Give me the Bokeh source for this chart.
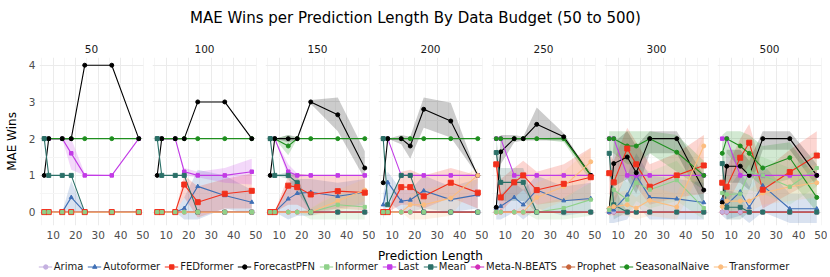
from bokeh.plotting import figure
from bokeh.layouts import column, row
from bokeh.models import Range1d, FixedTicker, Legend, LegendItem, Label, AllLabels
from bokeh.embed import file_html
from bokeh.resources import INLINE

FONT = "DejaVu Sans"

PRED_LEN = [6, 8, 14, 18, 24, 36, 48]
BUDGETS = [50, 100, 150, 200, 250, 300, 500]
X_TICKS = [10, 20, 30, 40, 50]
X_MINOR = [5, 15, 25, 35, 45]
Y_TICKS = [0, 1, 2, 3, 4]
Y_MINOR = [0.5, 1.5, 2.5, 3.5]

MODELS = ["Arima", "Autoformer", "FEDformer", "ForecastPFN", "Informer", "Last",
          "Mean", "Meta-N-BEATS", "Prophet", "SeasonalNaive", "Transformer"]
# stacking order of the point layer (bottom to top)
POINT_ORDER = ["Meta-N-BEATS", "Prophet", "Arima", "Autoformer", "Last", "SeasonalNaive",
               "ForecastPFN", "Mean", "Transformer", "FEDformer", "Informer"]

COLORS = {
    "Arima": "#c4b0e0", "Autoformer": "#3f6fb5", "FEDformer": "#f2301c",
    "ForecastPFN": "#000000", "Informer": "#8fd18a", "Last": "#c23be6",
    "Mean": "#2b7068", "Meta-N-BEATS": "#d22dba", "Prophet": "#c8643a",
    "SeasonalNaive": "#1f8f1f", "Transformer": "#fcbd7e",
}
MARKERS = {
    "Arima": "circle", "Autoformer": "triangle", "FEDformer": "square",
    "ForecastPFN": "circle", "Informer": "square", "Last": "square",
    "Mean": "square", "Meta-N-BEATS": "circle", "Prophet": "circle",
    "SeasonalNaive": "circle", "Transformer": "circle",
}
SIZES = {m: 4 for m in MODELS}
SIZES["FEDformer"] = 5
SIZES["Informer"] = 3.2
SIZES["Last"] = 3.5

# MAE wins, one row per data budget (50, 100, 150, 200, 250, 300, 500)
ARIMA = [
    [0, 0, 0, 0, 0, 0, 0], [0, 0, 0, 0, 0, 0, 0], [0, 0, 0, 0, 0, 0, 0],
    [0, 0, 0, 0, 0, 0, 0], [0, 0, 0, 0, 0, 0, 0], [0, 0, 0, 0, 0, 0, 0],
    [0, 0, 0, 0, 0, 0, 0],
]
AUTOFORMER = [
    [0, 0, 0, 0.4, 0, 0, 0],
    [0, 0, 0, 0.1, 0.7, 0.45, 0.27],
    [0, 0, 0.36, 0.51, 0.54, 0.43, 0.54],
    [0.2, 0.81, 0.3, 0.33, 0.58, 0.34, 0.47],
    [0.11, 0.16, 0.4, 0.2, 0.6, 0.31, 0.37],
    [0, 0.06, 0.47, 1.0, 0.4, 0.36, 0.26],
    [0.34, 0.2, 0.55, 0.13, 0.72, 0.09, 0.09],
]
FEDFORMER = [
    [0, 0, 0, 0, 0, 0, 0],
    [0, 0, 0, 0.75, 0.27, 0.5, 0.58],
    [0, 0, 0.72, 0.68, 0.48, 0.57, 0.53],
    [0, 0, 0.68, 0.68, 0.43, 0.8, 0.53],
    [1.3, 0.4, 0.81, 1.0, 0.6, 0.77, 0.95],
    [1.06, 0.81, 1.73, 1.3, 0.69, 1.0, 1.27],
    [0.8, 0.69, 1.48, 1.89, 0.61, 1.09, 1.54],
]
FORECASTPFN = [
    [1, 2, 2, 2, 4, 4, 2],
    [1, 2, 2, 2, 3, 3, 2],
    [1, 2, 2, 2, 3, 2.65, 1.2],
    [0.8, 2, 2, 1.8, 2.8, 2.48, 1],
    [0.13, 1.64, 2, 2, 2.39, 2.05, 1],
    [0.09, 1.32, 1.5, 1.07, 2, 2, 0.6],
    [0.26, 1.25, 1.25, 1.0, 2, 2, 1],
]
INFORMER = [
    [0, 0, 0, 0, 0, 0, 0],
    [0, 0, 0, 0, 0, 0, 0],
    [0, 0, 0, 0, 0, 0.2, 0.14],
    [0, 0, 0, 0, 0, 0, 0],
    [0, 0, 0, 0, 0, 0.11, 0.34],
    [0.06, 0.61, 0.34, 0.8, 0.61, 0.87, 0.11],
    [0.52, 0.48, 0.5, 1.1, 1.0, 0.69, 1.2],
]
LAST = [
    [2, 2, 2, 1.6, 1, 1, 2],
    [2, 2, 2, 1.1, 1, 1, 1.1],
    [2, 2, 1.1, 1, 1, 1, 1],
    [2, 2, 1, 1, 1, 1, 1],
    [2, 2, 1, 1, 1, 1, 1],
    [2, 2, 1, 1, 1, 1, 1],
    [2, 2, 1, 1, 1, 1, 1],
]
MEAN = [
    [2, 1, 1, 1, 0, 0, 0],
    [2, 1, 1, 1, 0, 0, 0],
    [2, 1, 1, 0.8, 0, 0, 0],
    [2, 0.2, 1, 1, 0, 0, 0],
    [1.62, 0.81, 0.81, 0.81, 0, 0, 0],
    [1.6, 0.2, 0, 0, 0, 0, 0],
    [1.32, 0.13, 0.13, 0, 0, 0, 0],
]
META_N_BEATS = [
    [0, 0, 0, 0, 0, 0, 0], [0, 0, 0, 0, 0, 0, 0], [0, 0, 0, 0, 0, 0, 0],
    [0, 0, 0, 0, 0, 0, 0], [0, 0, 0, 0, 0, 0, 0], [0, 0, 0, 0, 0, 0, 0],
    [0, 0, 0, 0, 0, 0, 0],
]
PROPHET = [
    [0, 0, 0, 0, 0, 0, 0], [0, 0, 0, 0, 0, 0, 0], [0, 0, 0, 0, 0, 0, 0],
    [0, 0, 0, 0, 0, 0, 0], [0, 0, 0, 0, 0, 0, 0], [0, 0, 0, 0, 0, 0, 0],
    [0, 0, 0, 0, 0, 0, 0],
]
SEASONALNAIVE = [
    [2, 2, 2, 2, 2, 2, 2],
    [2, 2, 2, 2, 2, 2, 2],
    [2, 2, 1.8, 2, 2, 2, 2],
    [2, 2, 2, 2, 2, 2, 2],
    [2, 2, 2, 2, 2, 2, 1],
    [2, 2, 1.8, 1.8, 2, 1.63, 1.0],
    [1.6, 2, 1.8, 1.6, 1.2, 1.48, 0.4],
]
TRANSFORMER = [
    [0, 0, 0, 0, 0, 0, 0],
    [0, 0, 0, 0, 0, 0, 0],
    [0, 0, 0, 0, 0, 0.3, 0.6],
    [0, 0, 0, 0.2, 0.2, 0.38, 1.0],
    [0, 0, 0, 0, 0.4, 0.7, 1.37],
    [0.1, 0.15, 0.2, 0.11, 0.32, 0.14, 1.8],
    [0.15, 0.3, 0.3, 0.3, 0.52, 0.69, 0.8],
]

# ribbons (lower, upper) for the budgets where one is visible
FORECASTPFN_BAND = {
    150: ([1, 2, 1.9, 1.95, 2.95, 2.2, 0.9], [1, 2, 2.1, 2.05, 3.05, 3.12, 1.66]),
    200: ([0.8, 2, 1.85, 1.45, 2.3, 2.03, 1.0], [0.8, 2, 2.1, 2.05, 3.12, 2.98, 1.0]),
    250: ([0.13, 1.3, 1.9, 1.95, 1.95, 1.95, 1.0], [0.13, 2.1, 2.1, 2.05, 2.85, 2.15, 1.0]),
    300: ([0.0, 0.7, 0.9, 0.5, 1.6, 1.6, 0.2], [0.3, 1.9, 2.2, 1.8, 2.2, 2.2, 1.0]),
    500: ([0.1, 0.8, 0.8, 0.6, 1.7, 1.7, 0.7], [0.5, 1.7, 1.7, 1.4, 2.2, 2.2, 1.3]),
}
SEASONALNAIVE_BAND = {
    150: ([2, 2, 1.55, 2, 2, 2, 2], [2, 2, 2.1, 2, 2, 2, 2]),
    250: ([2, 2, 2, 2, 2, 1.9, 0.85], [2, 2, 2, 2, 2, 2.05, 1.1]),
    300: ([1.6, 1.6, 1.3, 1.3, 1.6, 1.1, 0.6], [2.2, 2.2, 2.2, 2.2, 2.2, 2.1, 1.4]),
    500: ([1.0, 1.6, 1.2, 1.0, 0.7, 0.9, 0.0], [2.1, 2.2, 2.2, 2.1, 1.8, 1.9, 0.9]),
}
MEAN_BAND = {
    150: ([2, 1, 0.9, 0.55, 0, 0, 0], [2, 1, 1.1, 1.0, 0, 0, 0]),
    250: ([1.2, 0.3, 0.3, 0.3, 0, 0, 0], [2.0, 1.2, 1.2, 1.2, 0, 0, 0]),
    300: ([1.0, -0.2, 0, 0, 0, 0, 0], [2.1, 0.7, 0, 0, 0, 0, 0]),
    500: ([0.8, -0.2, -0.2, 0, 0, 0, 0], [1.9, 0.6, 0.5, 0, 0, 0, 0]),
}
LAST_BAND = {
    50: ([2, 2, 2, 1.15, 1, 1, 2], [2, 2, 2, 2.0, 1.05, 1, 2]),
    100: ([2, 2, 2, 1.0, 0.95, 0.8, 0.75], [2, 2, 2, 1.2, 1.1, 1.2, 1.45]),
    150: ([2, 2, 0.95, 0.95, 1, 1, 1], [2, 2, 1.3, 1.05, 1, 1, 1]),
}
AUTOFORMER_BAND = {
    50: ([0, 0, 0, 0, 0, 0, 0], [0, 0, 0, 0.85, 0, 0, 0]),
    100: ([0, 0, 0, -0.2, -0.2, 0.1, -0.05], [0, 0, 0, 0.4, 1.15, 1.0, 0.6]),
    150: ([0, 0, -0.2, -0.1, -0.1, 0.1, 0.2], [0, 0, 0.8, 0.9, 0.9, 0.8, 0.9]),
    200: ([-0.2, 0.3, 0, 0, 0.1, 0, 0.1], [0.5, 1.1, 0.6, 0.6, 1.0, 0.7, 0.9]),
    250: ([-0.2, -0.2, 0, -0.2, 0.1, -0.1, 0.0], [0.4, 0.5, 0.8, 0.6, 1.0, 0.7, 0.8]),
    300: ([-0.3, -0.3, -0.2, 0.2, -0.2, -0.2, -0.2], [0.3, 0.4, 1.0, 1.6, 1.0, 0.9, 0.8]),
    500: ([-0.1, -0.2, -0.1, -0.3, 0.0, -0.3, -0.3], [0.9, 0.6, 1.1, 0.7, 1.3, 0.5, 0.5]),
}
FEDFORMER_BAND = {
    100: ([0, 0, 0, 0.4, -0.15, 0.1, 0.1], [0, 0, 0, 1.0, 0.7, 0.9, 1.05]),
    150: ([0, 0, 0.2, 0.2, 0, 0.1, 0.05], [0, 0, 1.0, 1.05, 1.0, 1.0, 1.0]),
    200: ([0, 0, 0.2, 0.2, 0.1, 0.4, 0.1], [0, 0, 1.1, 1.15, 1.0, 1.2, 1.0]),
    250: ([0.7, 0.0, 0.4, 0.6, 0.2, 0.3, 0.3], [1.8, 0.9, 1.2, 1.4, 1.1, 1.3, 1.75]),
    300: ([0.5, 0.2, 1.1, 0.7, 0.2, 0.4, 0.5], [1.6, 1.4, 2.3, 1.9, 1.3, 1.6, 2.1]),
    500: ([0.3, 0.2, 0.9, 1.3, 0.1, 0.5, 0.9], [1.3, 1.2, 2.0, 2.4, 1.1, 1.7, 2.2]),
}
INFORMER_BAND = {
    150: ([0, 0, 0, 0, -0.2, -0.2, -0.2], [0, 0, 0, 0, 0.1, 0.5, 0.5]),
    250: ([0, 0, 0, 0, -0.2, -0.2, -0.1], [0, 0, 0, 0, 0.2, 0.4, 0.8]),
    300: ([-0.2, 0.1, -0.1, 0.3, 0.1, 0.3, -0.2], [0.4, 1.2, 0.8, 1.3, 1.1, 1.4, 0.5]),
    500: ([0.1, 0.0, 0.1, 0.6, 0.5, 0.2, 0.7], [1.0, 1.0, 0.9, 1.6, 1.5, 1.2, 1.7]),
}
TRANSFORMER_BAND = {
    150: ([0, 0, 0, 0, -0.1, 0, 0.3], [0, 0, 0, 0, 0.1, 0.6, 0.9]),
    200: ([0, 0, 0, -0.2, -0.2, -0.1, 0.8], [0, 0, 0, 0.5, 0.6, 0.8, 1.2]),
    250: ([0, 0, 0, -0.1, 0.0, 0.3, 0.9], [0, 0, 0, 0.2, 0.8, 1.1, 1.75]),
    300: ([-0.1, -0.1, -0.1, -0.2, -0.1, -0.2, 1.3], [0.4, 0.5, 0.6, 0.4, 0.7, 0.5, 2.1]),
    500: ([-0.1, 0, 0, 0, 0.2, 0.3, 0.4], [0.5, 0.6, 0.6, 0.6, 0.9, 1.1, 1.3]),
}

VALUES = {
    "Arima": ARIMA, "Autoformer": AUTOFORMER, "FEDformer": FEDFORMER,
    "ForecastPFN": FORECASTPFN, "Informer": INFORMER, "Last": LAST, "Mean": MEAN,
    "Meta-N-BEATS": META_N_BEATS, "Prophet": PROPHET,
    "SeasonalNaive": SEASONALNAIVE, "Transformer": TRANSFORMER,
}
BANDS = {
    "ForecastPFN": FORECASTPFN_BAND, "SeasonalNaive": SEASONALNAIVE_BAND,
    "Mean": MEAN_BAND, "Last": LAST_BAND, "Autoformer": AUTOFORMER_BAND,
    "FEDformer": FEDFORMER_BAND, "Informer": INFORMER_BAND,
    "Transformer": TRANSFORMER_BAND,
}

TOTAL_W = 827
GRID_MAJOR = "#ebebeb"
GRID_MINOR = "#f5f5f5"
NAN = float("nan")


def style_text_fig(p):
    p.outline_line_color = None
    p.xgrid.visible = False
    p.ygrid.visible = False
    p.background_fill_color = "white"
    p.border_fill_color = "white"


# ---- title
title_fig = figure(width=TOTAL_W, height=28, x_range=Range1d(0, TOTAL_W), y_range=Range1d(0, 28),
                   output_backend="svg", toolbar_location=None,
                   x_axis_location=None, y_axis_location=None, min_border=0)
style_text_fig(title_fig)
title_fig.add_layout(Label(x=415, y=11, text="MAE Wins per Prediction Length By Data Budget (50 to 500)",
                           text_align="center", text_baseline="middle", text_font=FONT,
                           text_font_size="15px", text_color="#000000"))

# ---- panels
panels = []
for i, b in enumerate(BUDGETS):
    first = i == 0
    p = figure(frame_width=104, frame_height=168,
               x_range=Range1d(3.9, 50.1), y_range=Range1d(-0.365, 4.21),
               output_backend="svg", toolbar_location=None,
               y_axis_location="left" if first else None,
               min_border_left=39 if first else 3, min_border_right=6,
               min_border_top=29, min_border_bottom=19, title=str(b))
    p.outline_line_color = None
    p.title.align = "center"
    p.title.text_font = FONT
    p.title.text_font_size = "10.5px"
    p.title.text_font_style = "normal"
    p.title.text_color = "#1a1a1a"
    p.title.standoff = 9

    p.xaxis.ticker = FixedTicker(ticks=X_TICKS, minor_ticks=X_MINOR)
    p.xaxis.major_label_policy = AllLabels()
    p.xaxis.axis_line_color = None
    p.xaxis.major_tick_line_color = None
    p.xaxis.minor_tick_line_color = None
    p.xaxis.major_tick_out = 0
    p.xaxis.major_tick_in = 0
    p.xaxis.minor_tick_out = 0
    p.xaxis.minor_tick_in = 0
    p.xaxis.major_label_text_font = FONT
    p.xaxis.major_label_text_font_size = "10.5px"
    p.xaxis.major_label_text_color = "#4d4d4d"
    p.xaxis.major_label_standoff = 5

    p.xgrid.ticker = FixedTicker(ticks=X_TICKS, minor_ticks=X_MINOR)
    p.ygrid.ticker = FixedTicker(ticks=Y_TICKS, minor_ticks=Y_MINOR)
    for g in (p.xgrid, p.ygrid):
        g.grid_line_color = GRID_MAJOR
        g.grid_line_width = 1
        g.minor_grid_line_color = GRID_MINOR
        g.minor_grid_line_width = 1

    if first:
        p.yaxis.ticker = FixedTicker(ticks=Y_TICKS, minor_ticks=Y_MINOR)
        p.yaxis.major_label_policy = AllLabels()
        p.yaxis.axis_line_color = None
        p.yaxis.major_tick_line_color = None
        p.yaxis.minor_tick_line_color = None
        p.yaxis.major_tick_out = 0
        p.yaxis.major_tick_in = 0
        p.yaxis.minor_tick_out = 0
        p.yaxis.minor_tick_in = 0
        p.yaxis.major_label_text_font = FONT
        p.yaxis.major_label_text_font_size = "10.5px"
        p.yaxis.major_label_text_color = "#4d4d4d"
        p.yaxis.major_label_standoff = 4
        p.yaxis.axis_label = "MAE Wins"
        p.yaxis.axis_label_text_font = FONT
        p.yaxis.axis_label_text_font_size = "12px"
        p.yaxis.axis_label_text_font_style = "normal"
        p.yaxis.axis_label_text_color = "#000000"
        p.yaxis.axis_label_standoff = 7

    # ribbons first
    for m in MODELS:
        band = BANDS.get(m, {})
        if b in band:
            lo, hi = band[b]
            p.varea(x=PRED_LEN, y1=lo, y2=hi, fill_color=COLORS[m], fill_alpha=0.2)
    # lines
    for m in MODELS:
        p.line(x=PRED_LEN, y=VALUES[m][i], line_color=COLORS[m], line_width=1.1)
    # points
    for m in POINT_ORDER:
        p.scatter(x=PRED_LEN, y=VALUES[m][i], marker=MARKERS[m], size=SIZES[m],
                  fill_color=COLORS[m], line_color=COLORS[m])
    panels.append(p)

# ---- bottom: x-axis title + legend
bot = figure(width=TOTAL_W, height=32, x_range=Range1d(0, TOTAL_W), y_range=Range1d(0, 32),
             output_backend="svg", toolbar_location=None,
             x_axis_location=None, y_axis_location=None, min_border=0)
style_text_fig(bot)
bot.add_layout(Label(x=430, y=21, text="Prediction Length", text_align="center",
                     text_baseline="middle", text_font=FONT, text_font_size="12px",
                     text_color="#000000"))
items = []
for m in MODELS:
    rl = bot.line(x=[NAN], y=[NAN], line_color=COLORS[m], line_width=1.1)
    rp = bot.scatter(x=[NAN], y=[NAN], marker=MARKERS[m], size=4,
                     fill_color=COLORS[m], line_color=COLORS[m])
    items.append(LegendItem(label=m, renderers=[rl, rp]))
leg = Legend(items=items, orientation="horizontal", location="bottom_center",
             margin=4, padding=0, spacing=4, glyph_width=14, glyph_height=11,
             label_height=11, label_standoff=2, label_text_font=FONT,
             label_text_font_size="10px", label_text_color="#1a1a1a",
             label_text_baseline="middle",
             border_line_color=None, background_fill_alpha=0)
bot.add_layout(leg)

layout = column(title_fig, row(*panels), bot)
open("out.html", "w").write(file_html(layout, INLINE))
